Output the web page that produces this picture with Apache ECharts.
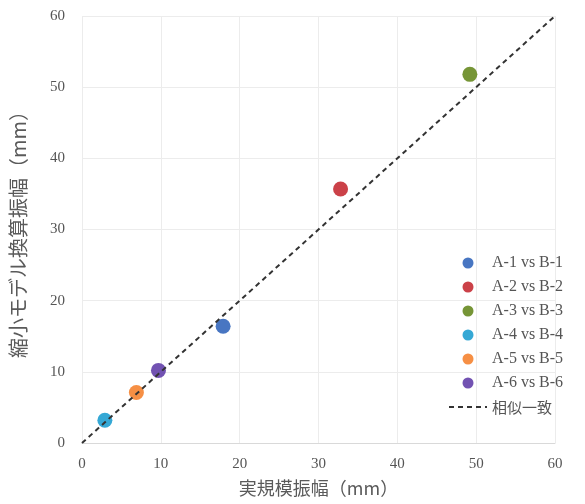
<!DOCTYPE html>
<html><head><meta charset="utf-8">
<script src="https://cdn.jsdelivr.net/npm/echarts@6/dist/echarts.min.js"></script>
<style>html,body{margin:0;padding:0;background:#fff}#c{width:585px;height:504px}</style>
</head><body><div id="c"></div>
<script>
const seriesNames = ['A-1 vs B-1','A-2 vs B-2','A-3 vs B-3','A-4 vs B-4','A-5 vs B-5','A-6 vs B-6'];
const realValues = [17.9, 32.8, 49.2, 2.9, 6.9, 9.7];
const modelValues = [16.4, 35.7, 51.8, 3.2, 7.1, 10.2];
const colors = ['#3E6FBF','#C8373E','#6F8F2B','#2AA3D3','#F5893A','#6A49AE'];
const refLineName = '相似一致';
const refLine = [[0,0],[60,60]];
const serif = '"Liberation Serif","DejaVu Serif",serif';
const jp = '"Noto Sans CJK JP",sans-serif';

const series = seriesNames.map((n,i)=>({
  name:n, type:'scatter', symbolSize:15,
  itemStyle:{color:colors[i], opacity:0.95},
  data:[[realValues[i], modelValues[i]]], z:3
}));
series.push({
  name:refLineName, type:'line', data:refLine, symbol:'none',
  lineStyle:{color:'#333', type:[5,4], width:2}, itemStyle:{color:'#333'}, z:4
});

const chart = echarts.init(document.getElementById('c'));
chart.setOption({
  animation:false,
  grid:{left:82,right:30,top:16,bottom:61},
  legend:{
    orient:'vertical', left:443, top:249, itemGap:6, itemWidth:38, itemHeight:11,
    textStyle:{fontFamily:serif+','+jp, fontSize:16, color:'#555', lineHeight:18},
    data:seriesNames.map(n=>({name:n, icon:'circle'})).concat([{name:refLineName, itemStyle:{opacity:0}, textStyle:{fontFamily:jp, fontSize:15}}])
  },
  xAxis:{
    type:'value', min:0, max:60, interval:10,
    name:'実規模振幅（mm）', nameLocation:'middle', nameGap:36,
    nameTextStyle:{fontFamily:jp, fontSize:18, color:'#5a5a5a'},
    axisLine:{show:true, lineStyle:{color:'#d9d9d9'}},
    axisTick:{show:false},
    axisLabel:{fontFamily:serif, fontSize:15, color:'#555', margin:14},
    splitLine:{show:true, lineStyle:{color:'#ececec'}}
  },
  yAxis:{
    type:'value', min:0, max:60, interval:10,
    name:'縮小モデル換算振幅（mm）', nameLocation:'middle', nameGap:54,
    nameTextStyle:{fontFamily:jp, fontSize:20, color:'#5a5a5a'},
    axisLine:{show:false}, axisTick:{show:false},
    axisLabel:{fontFamily:serif, fontSize:15, color:'#555', margin:17},
    splitLine:{show:true, lineStyle:{color:'#ececec'}}
  },
  series:series
});
</script></body></html>
